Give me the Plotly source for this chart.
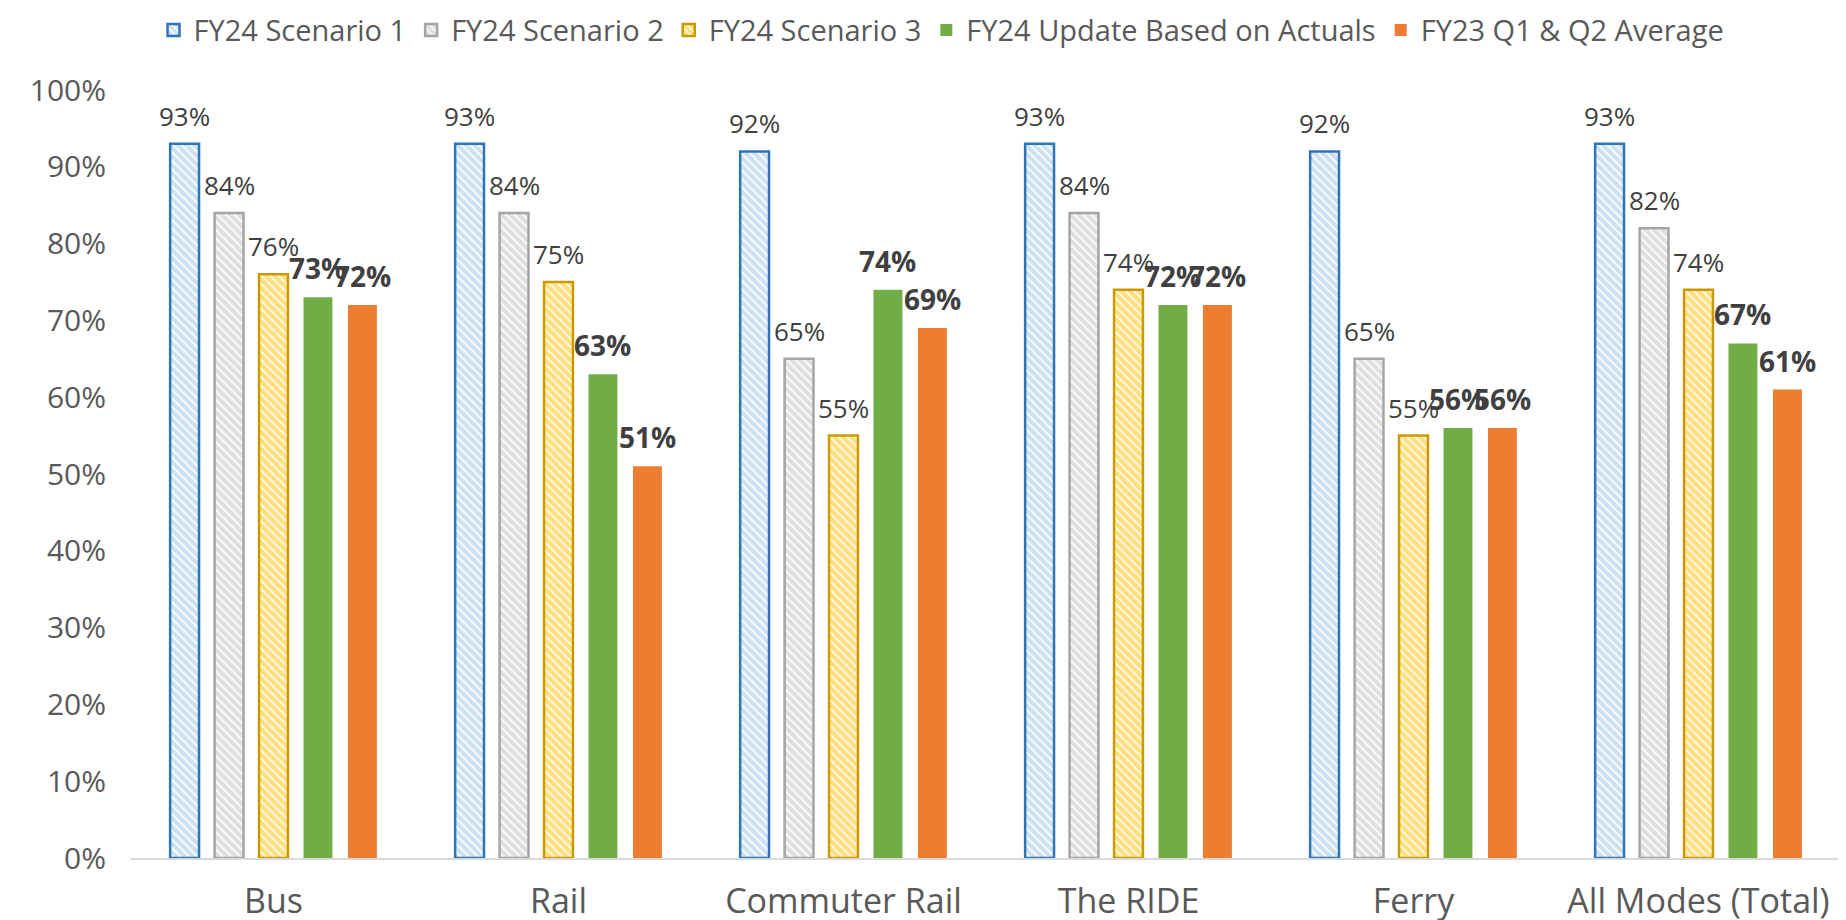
import plotly.graph_objects as go

categories = ['Bus', 'Rail', 'Commuter Rail', 'The RIDE', 'Ferry', 'All Modes (Total)']
series_names = ['FY24 Scenario 1', 'FY24 Scenario 2', 'FY24 Scenario 3',
                'FY24 Update Based on Actuals', 'FY23 Q1 & Q2 Average']
scenario1 = [0.93, 0.93, 0.92, 0.93, 0.92, 0.93]
scenario2 = [0.84, 0.84, 0.65, 0.84, 0.65, 0.82]
scenario3 = [0.76, 0.75, 0.55, 0.74, 0.55, 0.74]
update_actuals = [0.73, 0.63, 0.74, 0.72, 0.56, 0.67]
fy23_avg = [0.72, 0.51, 0.69, 0.72, 0.56, 0.61]
y_ticks = [0, 0.1, 0.2, 0.3, 0.4, 0.5, 0.6, 0.7, 0.8, 0.9, 1.0]

all_series = [scenario1, scenario2, scenario3, update_actuals, fy23_avg]

# styles: pattern fg, outline, hatched?, bold label
styles = [
    dict(fg='#9DC3E6', line='#2E75B6', hatch=True, bold=False, sol=0.7),
    dict(fg='#BFBFBF', line='#A5A5A5', hatch=True, bold=False, sol=0.7),
    dict(fg='#FFC000', line='#C99A06', hatch=True, bold=False, sol=0.75),
    dict(fg='#70AD47', line='#70AD47', hatch=False, bold=True),
    dict(fg='#ED7D31', line='#ED7D31', hatch=False, bold=True),
]

bargap = 0.22
bargroupgap = 0.35
slot = (1 - bargap) / len(all_series)

fig = go.Figure()
for k, (name, vals, st) in enumerate(zip(series_names, all_series, styles)):
    if st['hatch']:
        marker = dict(color='white',
                      pattern=dict(shape='\\', fgcolor=st['fg'], bgcolor='white',
                                   size=6, solidity=st['sol']),
                      line=dict(color=st['line'], width=2.5))
    else:
        marker = dict(color=st['fg'], line=dict(color=st['fg'], width=0))
    fig.add_trace(go.Bar(x=categories, y=vals, name=name, marker=marker))

    # value labels above each bar
    off = (k - (len(all_series) - 1) / 2) * slot
    for i, v in enumerate(vals):
        txt = '%d%%' % round(v * 100)
        if st['bold']:
            txt = '<b>%s</b>' % txt
        fig.add_annotation(x=i + off, y=v, xref='x', yref='y', text=txt,
                           showarrow=False, yanchor='bottom', yshift=8,
                           font=dict(family='Open Sans', size=28 if st['bold'] else 26,
                                     color='#404040'))

fig.update_layout(
    barmode='group', bargap=bargap, bargroupgap=bargroupgap,
    width=1846, height=920,
    margin=dict(l=123, r=13, t=82, b=70, autoexpand=False),
    paper_bgcolor='white', plot_bgcolor='white',
    font=dict(family='Open Sans', color='#595959'),
    legend=dict(orientation='h', x=0.474, xanchor='center',
                yref='container', y=0.976, yanchor='middle',
                font=dict(family='Open Sans', size=29, color='#595959'),
                itemwidth=30, traceorder='normal'),
)
fig.update_xaxes(showline=True, linecolor='#D9D9D9', linewidth=2,
                 tickfont=dict(size=34, color='#595959'), ticks='',
                 ticklabelstandoff=12, automargin=False)
fig.update_yaxes(range=[0, 1.0], tickvals=y_ticks, tickformat='.0%',
                 showgrid=False, zeroline=False, showline=False,
                 tickfont=dict(size=30, color='#595959'),
                 ticklabelstandoff=24, automargin=False)

fig.write_html("out.html")
